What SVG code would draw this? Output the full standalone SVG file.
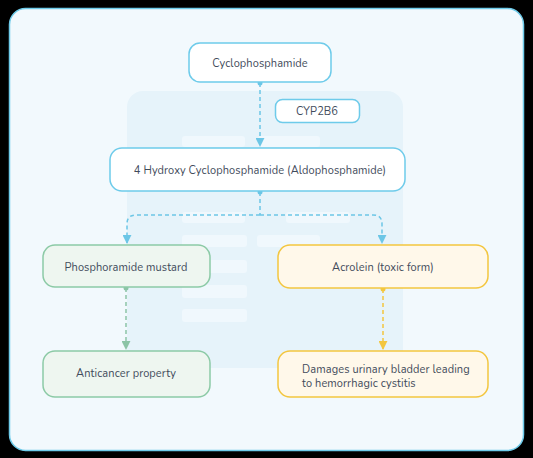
<svg xmlns="http://www.w3.org/2000/svg" width="533" height="458" viewBox="0 0 533 458">
<defs>
<style>
.t{font-family:"Nunito","Open Sans","Noto Sans",sans-serif;font-size:11px;letter-spacing:0.1px;fill:#3f4b5b}
.c{text-anchor:middle}
.blue{fill:#ffffff;stroke:#6ecbea;stroke-width:1.5}
.green{fill:#eef6f0;stroke:#8ccaa6;stroke-width:1.5}
.yellow{fill:#fff8ea;stroke:#f3c63f;stroke-width:1.5}
.lb{fill:none;stroke:#6cc6e6;stroke-width:1.5;stroke-dasharray:4 3}
.lg{fill:none;stroke:#8cc4a6;stroke-width:1.5;stroke-dasharray:4 3}
.ly{fill:none;stroke:#f3c63f;stroke-width:1.5;stroke-dasharray:4 3}
.bar{fill:#f0f8fd}
</style>
<marker id="ab" viewBox="0 0 10 10" refX="9" refY="5" markerWidth="6" markerHeight="6" orient="auto"><path d="M0,0 L10,5 L0,10 z" fill="#6cc6e6"/></marker>
<marker id="ag" viewBox="0 0 10 10" refX="9" refY="5" markerWidth="6" markerHeight="6" orient="auto"><path d="M0,0 L10,5 L0,10 z" fill="#8cc4a6"/></marker>
<marker id="ay" viewBox="0 0 10 10" refX="9" refY="5" markerWidth="6" markerHeight="6" orient="auto"><path d="M0,0 L10,5 L0,10 z" fill="#f3c63f"/></marker>
</defs>
<rect x="0" y="0" width="533" height="458" fill="#000000"/>
<rect x="9.5" y="8.5" width="514" height="442" rx="16" fill="#f2f9fd" stroke="#6ecbea" stroke-width="1.5"/>
<g id="watermark">
<rect x="127" y="91" width="276" height="277" rx="16" fill="#e6f3fa"/>
<rect class="bar" x="182" y="136" width="63" height="11" rx="3"/>
<rect class="bar" x="258" y="136" width="62" height="11" rx="3"/>
<rect class="bar" x="182" y="212" width="63" height="11" rx="3"/>
<rect class="bar" x="286" y="212" width="64" height="11" rx="3"/>
<rect class="bar" x="182" y="235" width="65" height="12" rx="3"/>
<rect class="bar" x="257" y="235" width="63" height="12" rx="3"/>
<rect class="bar" x="182" y="260" width="65" height="13" rx="3"/>
<rect class="bar" x="182" y="285" width="65" height="13" rx="3"/>
<rect class="bar" x="182" y="309" width="65" height="13" rx="3"/>
</g>
<g id="connectors">
<circle cx="260" cy="83" r="2.5" fill="#6cc6e6"/>
<path class="lb" d="M260,83 L260,146" marker-end="url(#ab)"/>
<circle cx="260" cy="192" r="2.5" fill="#6cc6e6"/>
<path class="lb" d="M260,192 L260,215 M260,215 L136,215 Q127,215 127,224 L127,243" marker-end="url(#ab)"/>
<path class="lb" d="M260,215 L373,215 Q382,215 382,224 L382,243" marker-end="url(#ab)"/>
<circle cx="126" cy="288" r="2.5" fill="#8cc4a6"/>
<path class="lg" d="M126,288 L126,349" marker-end="url(#ag)"/>
<circle cx="383" cy="289" r="2.5" fill="#f3c63f"/>
<path class="ly" d="M383,289 L383,349" marker-end="url(#ay)"/>
</g>
<g id="n-cyclo">
<rect class="blue" x="189" y="43" width="142" height="39" rx="11"/>
<text class="t c" x="260" y="67">Cyclophosphamide</text>
</g>
<g id="n-cyp">
<rect class="blue" x="275.5" y="99.5" width="84" height="23" rx="7"/>
<text class="t c" x="317" y="115">CYP2B6</text>
</g>
<g id="n-hydroxy">
<rect class="blue" x="110" y="148" width="295" height="43" rx="12"/>
<text class="t c" x="260" y="174">4 Hydroxy Cyclophosphamide (Aldophosphamide)</text>
</g>
<g id="n-phos">
<rect class="green" x="43" y="245" width="167" height="42" rx="12"/>
<text class="t c" x="126" y="271">Phosphoramide mustard</text>
</g>
<g id="n-acro">
<rect class="yellow" x="278" y="245" width="210" height="43" rx="12"/>
<text class="t c" x="383" y="271">Acrolein (toxic form)</text>
</g>
<g id="n-anti">
<rect class="green" x="43" y="351" width="167" height="46" rx="12"/>
<text class="t c" x="126" y="377">Anticancer property</text>
</g>
<g id="n-damage">
<rect class="yellow" x="278" y="351" width="210" height="46" rx="12"/>
<text class="t" x="302" y="373">Damages urinary bladder leading</text>
<text class="t" x="302" y="387">to hemorrhagic cystitis</text>
</g>
</svg>
